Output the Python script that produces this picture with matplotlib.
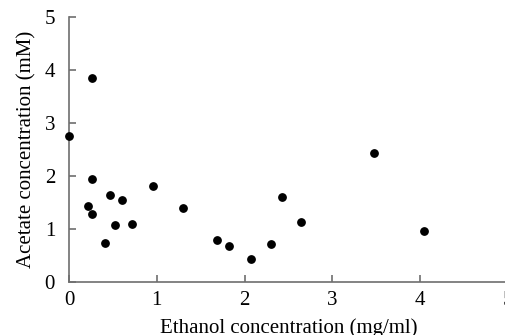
import matplotlib

matplotlib.use("Agg")

import matplotlib.pyplot as plt

# Данные
ethanol = [0.0, 0.265, 0.258, 0.213, 0.265, 0.467, 0.607, 0.528, 0.718, 0.41,
           0.96, 1.30, 1.686, 1.826, 2.07, 2.297, 2.43, 2.64, 3.47, 4.04]
acetate = [2.75, 3.85, 1.94, 1.44, 1.28, 1.63, 1.55, 1.07, 1.10, 0.73,
           1.80, 1.39, 0.78, 0.68, 0.42, 0.71, 1.61, 1.13, 2.43, 0.95]
x_ticks = [0, 1, 2, 3, 4, 5]
y_ticks = [0, 1, 2, 3, 4, 5]

plt.rcParams["font.family"] = ["Liberation Serif", "DejaVu Serif"]

fig = plt.figure(figsize=(5.05, 3.35), dpi=100)
ax = fig.add_axes([69 / 505, 53.3 / 335, 439 / 505, 264.5 / 335])

ax.scatter(ethanol, acetate, s=28, color="black", zorder=3, clip_on=False)

ax.set_xlim(0, 5)
ax.set_ylim(0, 5)
ax.set_xticks(x_ticks)
ax.set_yticks(y_ticks)

axis_color = "#6e6e6e"
for side in ["top", "right"]:
    ax.spines[side].set_visible(False)
for side in ["left", "bottom"]:
    ax.spines[side].set_color(axis_color)
    ax.spines[side].set_linewidth(1.2)

ax.tick_params(direction="in", length=5, width=1.2, color=axis_color,
               labelsize=15)
ax.tick_params(axis="y", pad=10)
ax.tick_params(axis="x", pad=7)

ax.set_xlabel("Ethanol concentration (mg/ml)", fontsize=15, labelpad=6)
ax.set_ylabel("Acetate concentration (mM)", fontsize=15, labelpad=6)

plt.savefig("out.png", dpi=100)
plt.close(fig)
